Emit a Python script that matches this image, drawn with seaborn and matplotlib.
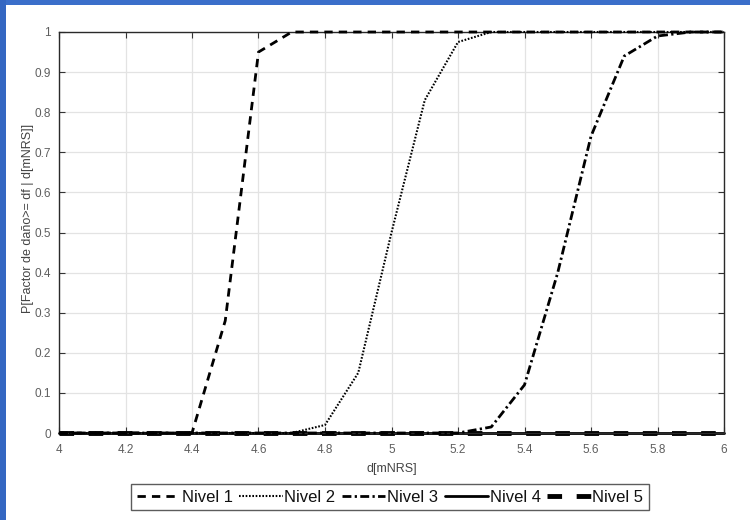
import numpy as np
import pandas as pd
import matplotlib
matplotlib.use("Agg")
import matplotlib.pyplot as plt
import seaborn as sns
from matplotlib.patches import Rectangle

# ---- data ----
d_values = [4.0, 4.1, 4.2, 4.3, 4.4, 4.5, 4.6, 4.7, 4.8, 4.9, 5.0,
            5.1, 5.2, 5.3, 5.4, 5.5, 5.6, 5.7, 5.8, 5.9, 6.0]
nivel1 = [0, 0, 0, 0, 0, 0.28, 0.95, 1.0, 1, 1, 1, 1, 1, 1, 1, 1, 1, 1, 1, 1, 1]
nivel2 = [0, 0, 0, 0, 0, 0, 0, 0, 0.02, 0.15, 0.50, 0.83, 0.975, 1.0, 1, 1, 1, 1, 1, 1, 1]
nivel3 = [0, 0, 0, 0, 0, 0, 0, 0, 0, 0, 0, 0, 0, 0.015, 0.12, 0.40, 0.74, 0.94, 0.99, 1.0, 1.0]
nivel4 = [0] * 21
nivel5 = [0] * 21
series_names = ["Nivel 1", "Nivel 2", "Nivel 3", "Nivel 4", "Nivel 5"]
x_ticks = [4, 4.2, 4.4, 4.6, 4.8, 5, 5.2, 5.4, 5.6, 5.8, 6]
x_ticklabels = ["4", "4.2", "4.4", "4.6", "4.8", "5", "5.2", "5.4", "5.6", "5.8", "6"]
y_ticks = [0, 0.1, 0.2, 0.3, 0.4, 0.5, 0.6, 0.7, 0.8, 0.9, 1]
y_ticklabels = ["0", "0.1", "0.2", "0.3", "0.4", "0.5", "0.6", "0.7", "0.8", "0.9", "1"]

frames = []
for name, vals in zip(series_names, [nivel1, nivel2, nivel3, nivel4, nivel5]):
    frames.append(pd.DataFrame({"d": d_values, "p": vals, "serie": name}))
df = pd.concat(frames, ignore_index=True)

sns.set_theme(style="white")
plt.rcParams["font.family"] = ["Liberation Sans", "DejaVu Sans"]

fig = plt.figure(figsize=(7.5, 5.2), dpi=100)
fig.patch.set_facecolor("white")
# blue frame (top and left)
fig.patches.append(Rectangle((0, 1 - 5 / 520), 1, 5 / 520, transform=fig.transFigure,
                             facecolor="#3b6fca", edgecolor="none", zorder=0))
fig.patches.append(Rectangle((0, 0), 6 / 750, 1, transform=fig.transFigure,
                             facecolor="#3467c2", edgecolor="none", zorder=0))

ax = fig.add_axes([59 / 750, 1 - 433 / 520, (724 - 59) / 750, (433 - 32) / 520])

styles = {
    "Nivel 1": dict(ls=(0, (3.0, 2.2)), lw=2.0, z=5),
    "Nivel 2": dict(ls=(0, (0.8, 0.8)), lw=1.5, z=4),
    "Nivel 3": dict(ls=(0, (3.2, 1.2, 0.8, 1.2)), lw=2.0, z=3),
    "Nivel 4": dict(ls="-", lw=2.0, z=2),
    "Nivel 5": dict(ls=(0, (3.0, 3.0)), lw=3.5, z=1),
}
for name in series_names:
    st = styles[name]
    sub = df[df["serie"] == name]
    sns.lineplot(data=sub, x="d", y="p", ax=ax, color="black", linewidth=st["lw"],
                 linestyle=st["ls"], label=name, zorder=st["z"], estimator=None,
                 legend=False)
for ln in ax.get_lines():
    ln.set_clip_on(False)

ax.set_xlim(4, 6)
ax.set_ylim(0, 1)
ax.set_xticks(x_ticks)
ax.set_xticklabels(x_ticklabels)
ax.set_yticks(y_ticks)
ax.set_yticklabels(y_ticklabels)
ax.grid(True, color="#e3e3e3", linewidth=0.9)
ax.set_axisbelow(True)
ax.tick_params(direction="in", length=4, width=0.8, colors="#333333",
               labelcolor="#5e5e5e", labelsize=8.5, top=True, right=True,
               bottom=True, left=True)
ax.tick_params(axis="x", pad=8)
ax.tick_params(axis="y", pad=6)
for sp in ax.spines.values():
    sp.set_visible(True)
    sp.set_color("#2a2a2a")
    sp.set_linewidth(1.0)

ax.set_xlabel("d[mNRS]", fontsize=9, color="#444444", labelpad=5)
ax.set_ylabel("P[Factor de daño>= df | d[mNRS]]", fontsize=9, color="#444444", labelpad=2)
ax.yaxis.set_label_coords(-0.038, 0.534)

handles = [l for l in ax.get_lines()]
leg = fig.legend(handles=handles, labels=series_names, loc="center",
                 bbox_to_anchor=(390 / 750, 1 - 497 / 520), ncol=5, frameon=True,
                 fancybox=False, edgecolor="#333333", fontsize=12,
                 handlelength=2.6, handletextpad=0.1, columnspacing=0.4,
                 borderpad=0.35, borderaxespad=0)
leg.get_frame().set_linewidth(1.0)
for t in leg.get_texts():
    t.set_color("#111111")

fig.savefig("out.png", dpi=100, facecolor="white")
